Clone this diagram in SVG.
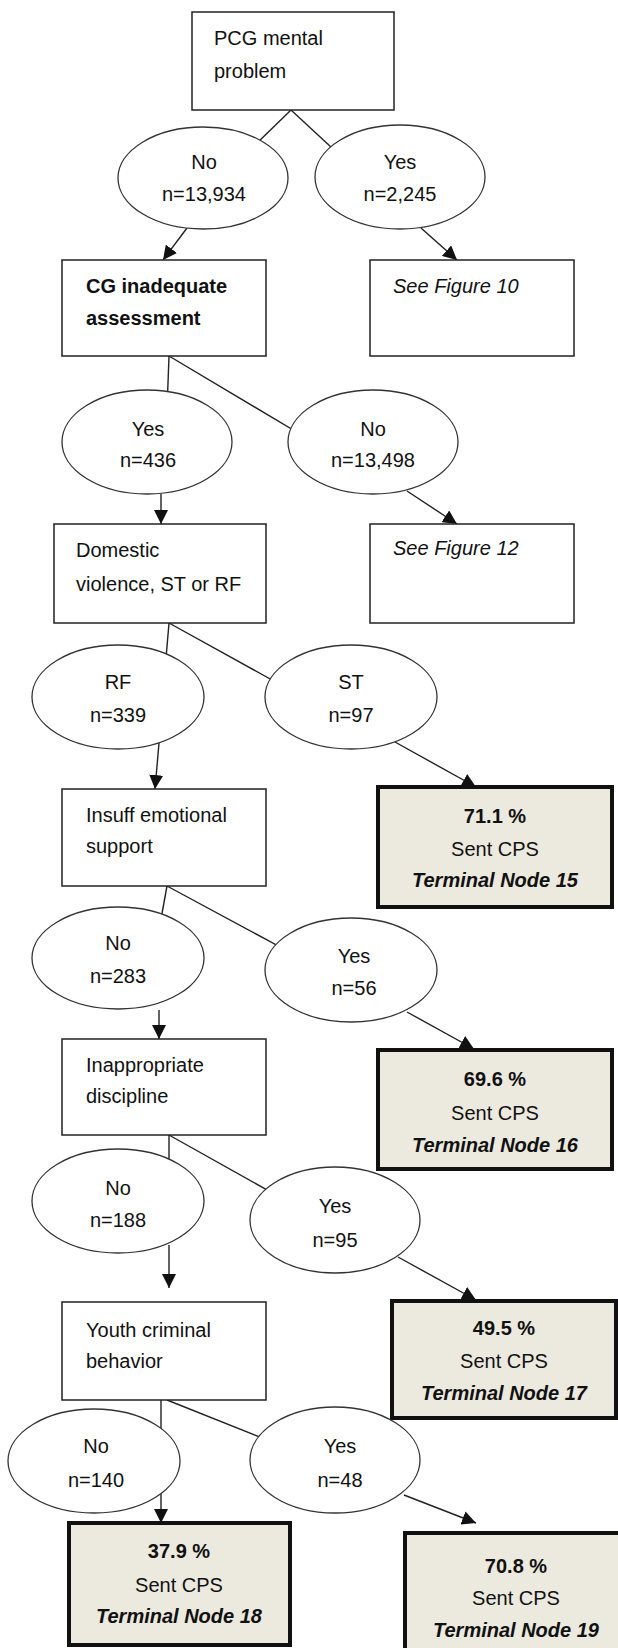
<svg xmlns="http://www.w3.org/2000/svg" width="618" height="1648" viewBox="0 0 618 1648">
  <defs>
    <marker id="arrow" markerUnits="userSpaceOnUse" markerWidth="14" markerHeight="14" refX="14" refY="7" orient="auto">
      <path d="M0,0 L14,7 L0,14 z" fill="#111"/>
    </marker>
    <style>
      .box { fill: #fff; stroke: #222; stroke-width: 1.5; }
      .term { fill: #ECE9DF; stroke: #111; stroke-width: 4; }
      .oval { fill: #fff; stroke: #333; stroke-width: 1.3; }
      .edge { fill: none; stroke: #222; stroke-width: 1.4; }
      .arr { fill: none; stroke: #222; stroke-width: 1.4; marker-end: url(#arrow); }
      text { font-family: "Liberation Sans", Arial, sans-serif; font-size: 20px; fill: #111; }
      .c { text-anchor: middle; }
      .b { font-weight: bold; }
      .i { font-style: italic; }
      .bi { font-weight: bold; font-style: italic; }
    </style>
  </defs>

  <!-- connectors sit under the nodes; ovals mask the line ends -->
  <g id="connectors">
    <line class="edge" x1="291" y1="110" x2="250" y2="150"/>
    <line class="edge" x1="291" y1="110" x2="345" y2="160"/>
    <line class="arr" x1="187" y1="228" x2="163" y2="260"/>
    <line class="arr" x1="421" y1="228" x2="457" y2="260"/>

    <line class="edge" x1="169" y1="356" x2="167" y2="410"/>
    <line class="edge" x1="169" y1="356" x2="310" y2="440"/>
    <line class="arr" x1="161" y1="494" x2="161" y2="524"/>
    <line class="arr" x1="407" y1="491" x2="457" y2="524"/>

    <line class="edge" x1="169" y1="623" x2="165" y2="670"/>
    <line class="edge" x1="169" y1="623" x2="290" y2="690"/>
    <line class="arr" x1="159" y1="743" x2="155" y2="789"/>
    <line class="arr" x1="395" y1="742" x2="476" y2="787"/>

    <line class="edge" x1="167" y1="886" x2="159" y2="930"/>
    <line class="edge" x1="167" y1="886" x2="295" y2="955"/>
    <line class="arr" x1="159" y1="1010" x2="159" y2="1039"/>
    <line class="arr" x1="407" y1="1012" x2="474" y2="1049"/>

    <line class="edge" x1="169" y1="1135" x2="169" y2="1180"/>
    <line class="edge" x1="169" y1="1135" x2="285" y2="1200"/>
    <line class="arr" x1="169" y1="1245" x2="169" y2="1288"/>
    <line class="arr" x1="398" y1="1257" x2="476" y2="1300"/>

    <line class="arr" x1="161" y1="1400" x2="161" y2="1523"/>
    <line class="edge" x1="167" y1="1400" x2="280" y2="1445"/>
    <line class="arr" x1="404" y1="1495" x2="476" y2="1523"/>
  </g>

  <g id="pcg-mental-problem">
    <rect class="box" x="192" y="12" width="202" height="98"/>
    <text x="214" y="45">PCG mental</text>
    <text x="214" y="78">problem</text>
  </g>
  <g id="pcg-no">
    <ellipse class="oval" cx="203" cy="178" rx="85" ry="51"/>
    <text class="c" x="204" y="169">No</text>
    <text class="c" x="204" y="201">n=13,934</text>
  </g>
  <g id="pcg-yes">
    <ellipse class="oval" cx="400" cy="177" rx="85" ry="52"/>
    <text class="c" x="400" y="169">Yes</text>
    <text class="c" x="400" y="201">n=2,245</text>
  </g>

  <g id="cg-inadequate-assessment">
    <rect class="box" x="62" y="260" width="204" height="96"/>
    <text class="b" x="86" y="293">CG inadequate</text>
    <text class="b" x="86" y="325">assessment</text>
  </g>
  <g id="see-figure-10">
    <rect class="box" x="370" y="260" width="204" height="96"/>
    <text class="i" x="393" y="293">See Figure 10</text>
  </g>
  <g id="cg-yes">
    <ellipse class="oval" cx="147" cy="442" rx="85" ry="52"/>
    <text class="c" x="148" y="436">Yes</text>
    <text class="c" x="148" y="467">n=436</text>
  </g>
  <g id="cg-no">
    <ellipse class="oval" cx="373" cy="442" rx="85" ry="52"/>
    <text class="c" x="373" y="436">No</text>
    <text class="c" x="373" y="467">n=13,498</text>
  </g>

  <g id="domestic-violence">
    <rect class="box" x="54" y="524" width="212" height="99"/>
    <text x="76" y="557">Domestic</text>
    <text x="76" y="591">violence, ST or RF</text>
  </g>
  <g id="see-figure-12">
    <rect class="box" x="370" y="524" width="204" height="99"/>
    <text class="i" x="393" y="555">See Figure 12</text>
  </g>
  <g id="dv-rf">
    <ellipse class="oval" cx="118" cy="697" rx="86" ry="52"/>
    <text class="c" x="118" y="689">RF</text>
    <text class="c" x="118" y="722">n=339</text>
  </g>
  <g id="dv-st">
    <ellipse class="oval" cx="351" cy="697" rx="86" ry="52"/>
    <text class="c" x="351" y="689">ST</text>
    <text class="c" x="351" y="722">n=97</text>
  </g>

  <g id="insuff-emotional-support">
    <rect class="box" x="62" y="789" width="204" height="97"/>
    <text x="86" y="822">Insuff emotional</text>
    <text x="86" y="853">support</text>
  </g>
  <g id="terminal-15">
    <rect class="term" x="378" y="787" width="234" height="120"/>
    <text class="c b" x="495" y="823">71.1 %</text>
    <text class="c" x="495" y="856">Sent CPS</text>
    <text class="c bi" x="495" y="887">Terminal Node 15</text>
  </g>
  <g id="ies-no">
    <ellipse class="oval" cx="118" cy="958" rx="86" ry="51"/>
    <text class="c" x="118" y="950">No</text>
    <text class="c" x="118" y="983">n=283</text>
  </g>
  <g id="ies-yes">
    <ellipse class="oval" cx="351" cy="970" rx="86" ry="52"/>
    <text class="c" x="354" y="963">Yes</text>
    <text class="c" x="354" y="995">n=56</text>
  </g>

  <g id="inappropriate-discipline">
    <rect class="box" x="62" y="1039" width="204" height="96"/>
    <text x="86" y="1072">Inappropriate</text>
    <text x="86" y="1103">discipline</text>
  </g>
  <g id="terminal-16">
    <rect class="term" x="378" y="1050" width="234" height="119"/>
    <text class="c b" x="495" y="1086">69.6 %</text>
    <text class="c" x="495" y="1120">Sent CPS</text>
    <text class="c bi" x="495" y="1152">Terminal Node 16</text>
  </g>
  <g id="id-no">
    <ellipse class="oval" cx="118" cy="1201" rx="86" ry="52"/>
    <text class="c" x="118" y="1195">No</text>
    <text class="c" x="118" y="1227">n=188</text>
  </g>
  <g id="id-yes">
    <ellipse class="oval" cx="335" cy="1220" rx="85" ry="53"/>
    <text class="c" x="335" y="1213">Yes</text>
    <text class="c" x="335" y="1247">n=95</text>
  </g>

  <g id="youth-criminal-behavior">
    <rect class="box" x="62" y="1302" width="204" height="98"/>
    <text x="86" y="1337">Youth criminal</text>
    <text x="86" y="1368">behavior</text>
  </g>
  <g id="terminal-17">
    <rect class="term" x="392" y="1301" width="224" height="117"/>
    <text class="c b" x="504" y="1335">49.5 %</text>
    <text class="c" x="504" y="1368">Sent CPS</text>
    <text class="c bi" x="504" y="1400">Terminal Node 17</text>
  </g>
  <g id="ycb-no">
    <ellipse class="oval" cx="94" cy="1461" rx="86" ry="52"/>
    <text class="c" x="96" y="1453">No</text>
    <text class="c" x="96" y="1487">n=140</text>
  </g>
  <g id="ycb-yes">
    <ellipse class="oval" cx="335" cy="1460" rx="85" ry="53"/>
    <text class="c" x="340" y="1453">Yes</text>
    <text class="c" x="340" y="1487">n=48</text>
  </g>

  <g id="terminal-18">
    <rect class="term" x="69" y="1523" width="221" height="122"/>
    <text class="c b" x="179" y="1558">37.9 %</text>
    <text class="c" x="179" y="1592">Sent CPS</text>
    <text class="c bi" x="179" y="1623">Terminal Node 18</text>
  </g>
  <g id="terminal-19">
    <rect class="term" x="405" y="1533" width="222" height="125"/>
    <text class="c b" x="516" y="1573">70.8 %</text>
    <text class="c" x="516" y="1605">Sent CPS</text>
    <text class="c bi" x="516" y="1637">Terminal Node 19</text>
  </g>
</svg>
